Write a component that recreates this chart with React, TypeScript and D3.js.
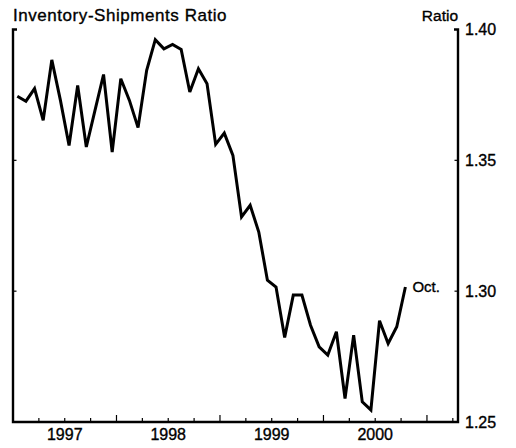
import React from "react";
import * as d3 from "d3";

const startYear = 1997;
const ratio: number[] = [
  1.3745, 1.3726, 1.3774, 1.3653, 1.3884, 1.3729, 1.3557, 1.3786, 1.3551, 1.369, 1.3828, 1.3532,
  1.3812, 1.3729, 1.3625, 1.3844, 1.3961, 1.3926, 1.3943, 1.3924, 1.3761, 1.385, 1.3793, 1.3561,
  1.3604, 1.3519, 1.3284, 1.3328, 1.3226, 1.3042, 1.3016, 1.2823, 1.2985, 1.2985, 1.287, 1.2787,
  1.2756, 1.2845, 1.259, 1.2832, 1.2577, 1.2546, 1.2887, 1.28, 1.2864, 1.3016,
];
const yearLabels = ["1997", "1998", "1999", "2000"];
const yTicks = [1.25, 1.3, 1.35, 1.4];
const yTickLabels = ["1.25", "1.30", "1.35", "1.40"];
const title = "Inventory-Shipments Ratio";
const unitLabel = "Ratio";
const endLabel = "Oct.";

const W = 516;
const H = 448;
const L = 13;
const R = 458;
const T = 29.5;
const B = 422;
const FONT = "'Liberation Sans', Arial, Helvetica, sans-serif";
const txt = { fontFamily: FONT, fill: "#000", stroke: "#000", strokeWidth: 0.35 };

export default function App() {
  const x = d3.scaleLinear().domain([1997, 2001.3]).range([L, R]);
  const y = d3.scaleLinear().domain([1.25, 1.4]).range([B, T]);
  const pts = ratio.map((v, i) => [x(startYear + (i + 0.5) / 12), y(v)] as [number, number]);
  const line = d3.line()(pts) || "";
  const quarterTicks: number[] = [];
  for (let t = 1997.25; t < 2001.3; t += 0.25) quarterTicks.push(t);
  const last = pts[pts.length - 1];
  return (
    <div style={{ position: "absolute", left: 0, top: 0 }}>
      <svg width={W} height={H} style={{ display: "block", background: "#fff" }}>
        <text x={13} y={21} fontSize={17} letterSpacing={0.55} {...txt}>
          {title}
        </text>
        <text x={R} y={21} fontSize={15.5} textAnchor="end" {...txt}>
          {unitLabel}
        </text>
        <path d={`M${L + 4},${T} H${L} V${B} H${R} V${T} H${R - 4}`} fill="none" stroke="#000" strokeWidth={2.4} />
        {yTicks.slice(1, 3).map((t) => (
          <g key={t}>
            <line x1={L} x2={L + 3.5} y1={y(t)} y2={y(t)} stroke="#000" strokeWidth={1.2} />
            <line x1={R} x2={R - 3.5} y1={y(t)} y2={y(t)} stroke="#000" strokeWidth={1.2} />
          </g>
        ))}
        {quarterTicks.map((t) => {
          const major = Math.abs(t - Math.round(t)) < 1e-6;
          return (
            <line key={t} x1={x(t)} x2={x(t)} y1={B} y2={B - (major ? 7 : 4)} stroke="#000" strokeWidth={1.2} />
          );
        })}
        {yearLabels.map((lab, i) => (
          <text key={lab} x={x(startYear + i + 0.5)} y={440} fontSize={16} textAnchor="middle" {...txt}>
            {lab}
          </text>
        ))}
        {yTicks.map((t, i) => (
          <text key={t} x={465} y={y(t)} dy="0.35em" fontSize={16} {...txt}>
            {yTickLabels[i]}
          </text>
        ))}
        <path d={line} fill="none" stroke="#000" strokeWidth={3} strokeLinejoin="miter" strokeMiterlimit={3} />
        <text x={last[0] + 7} y={last[1]} dy="0.35em" fontSize={15} {...txt}>
          {endLabel}
        </text>
      </svg>
    </div>
  );
}
